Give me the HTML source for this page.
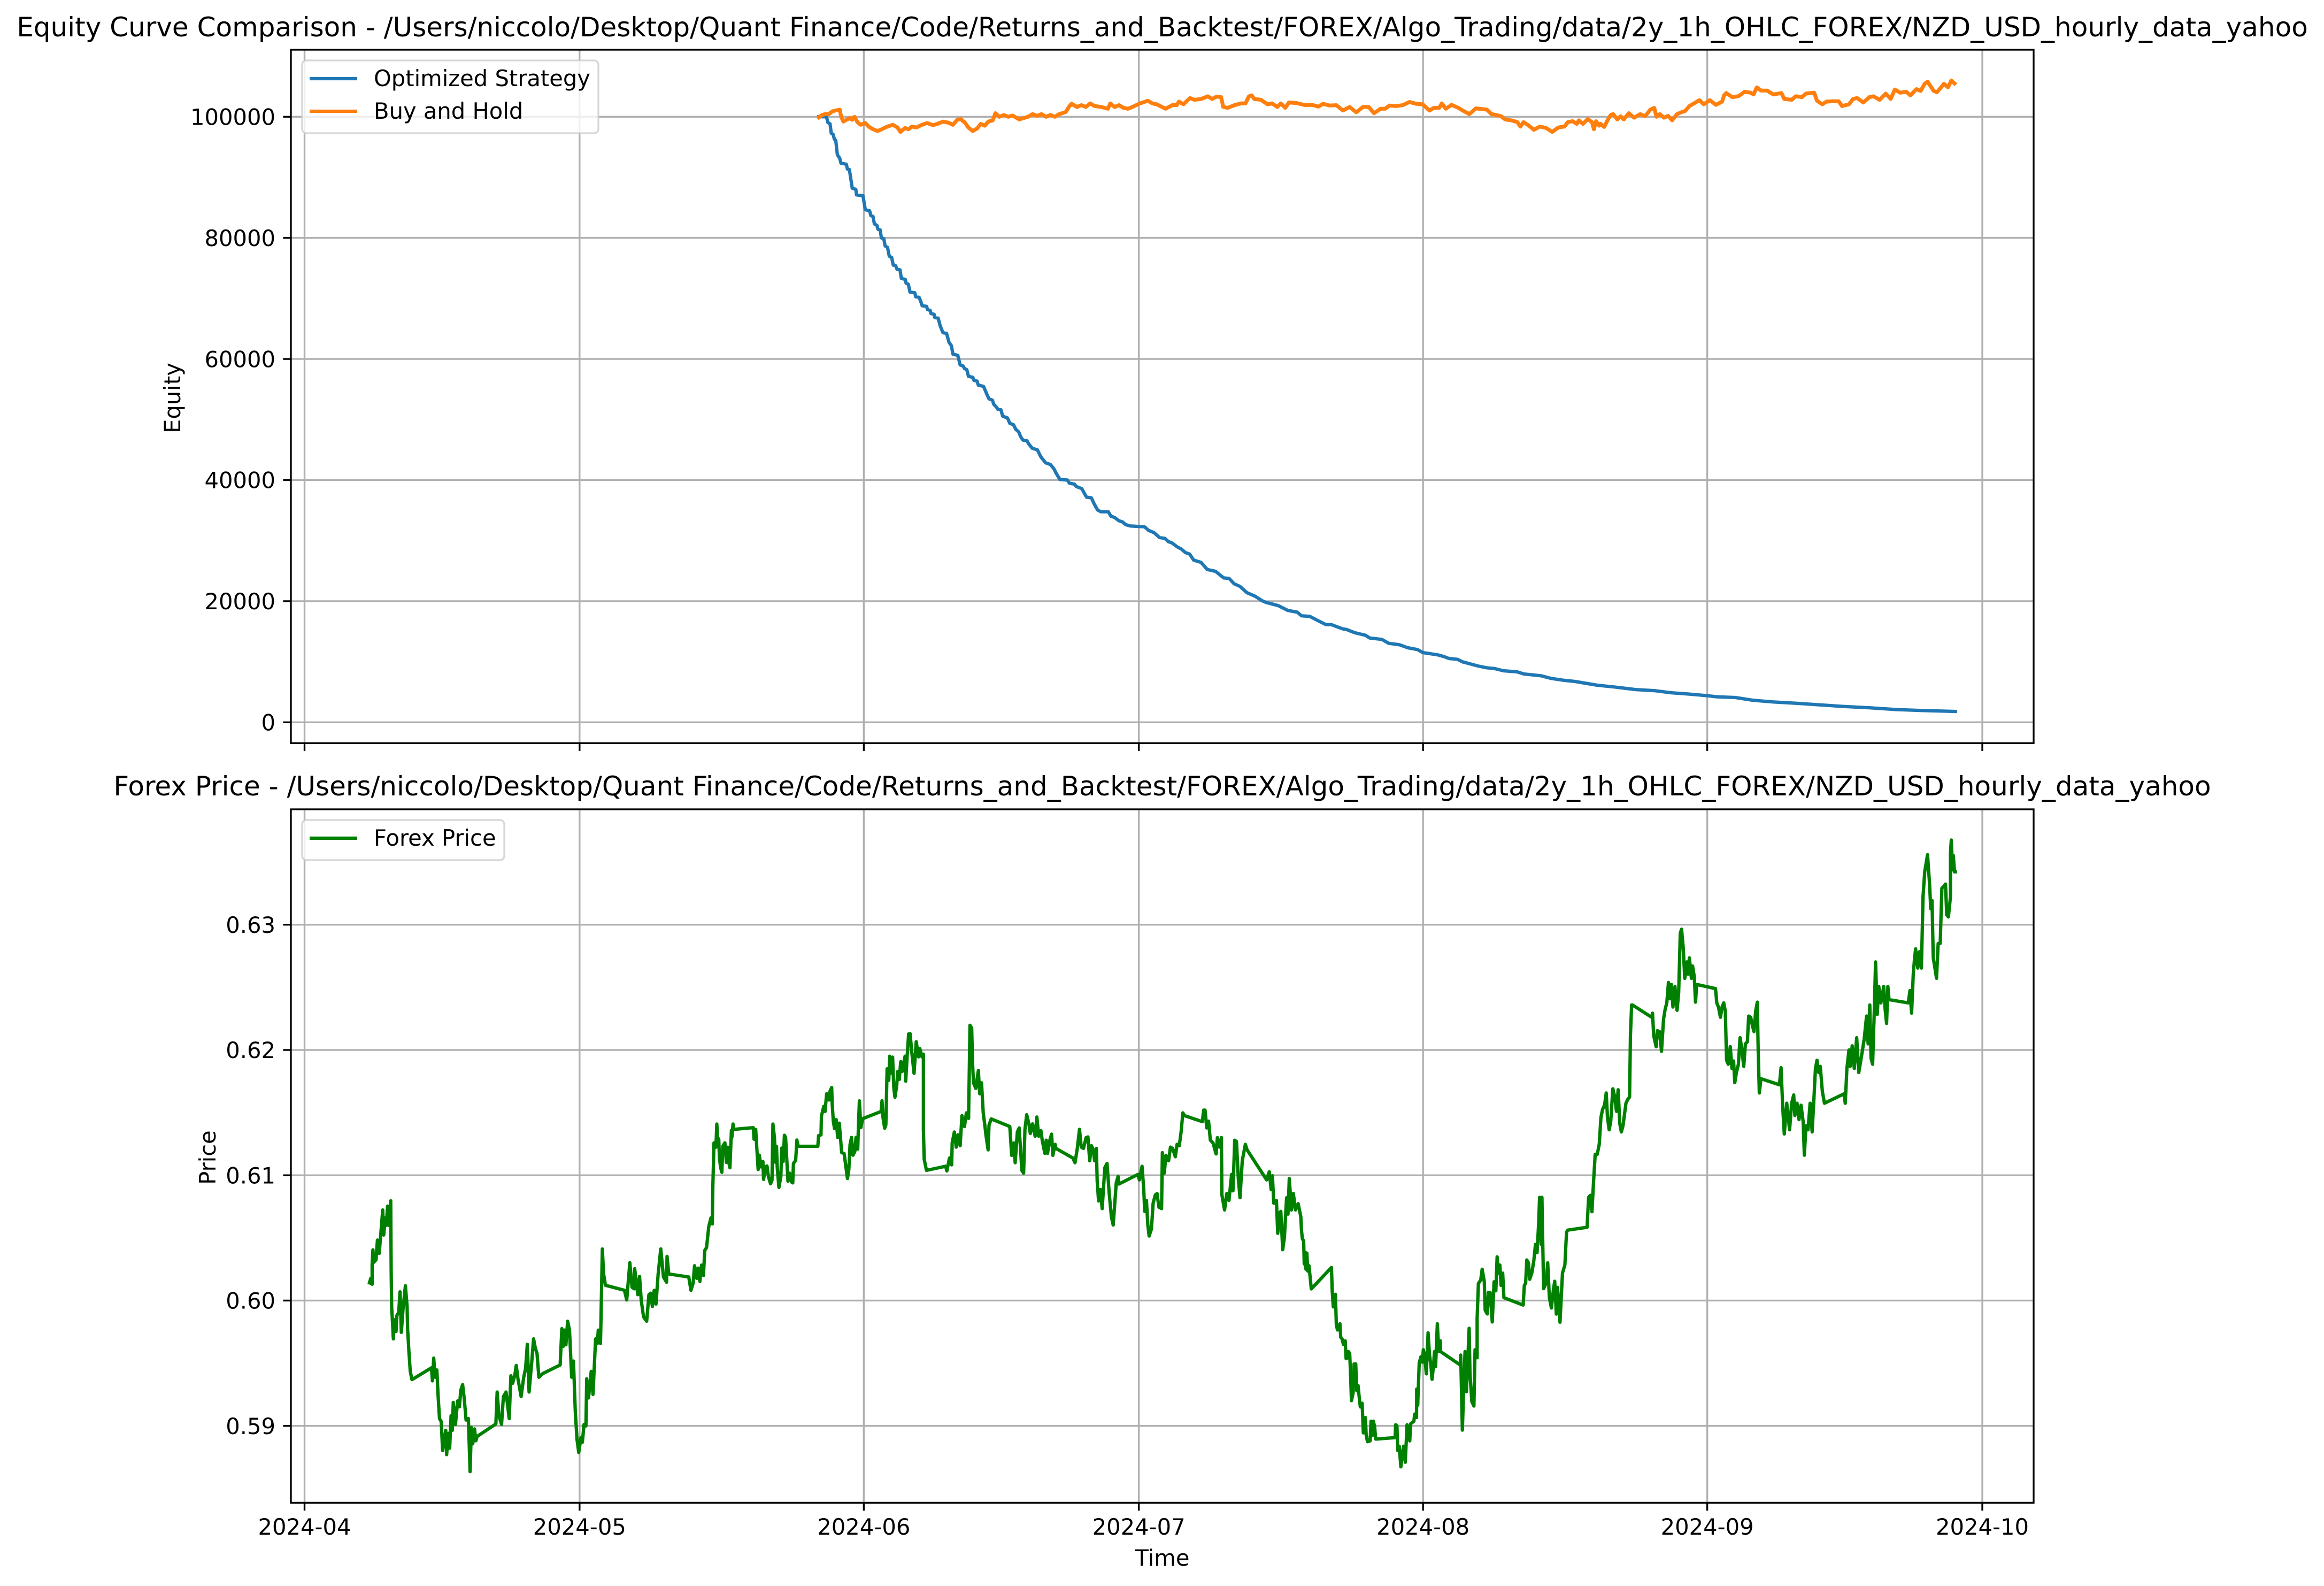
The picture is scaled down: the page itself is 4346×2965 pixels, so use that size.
<!DOCTYPE html>
<html lang="en">
<head>
<meta charset="utf-8">
<title>Equity Curve Comparison</title>
<style>
html,body{margin:0;padding:0;background:#fff;width:4346px;height:2965px;overflow:hidden}
svg{display:block}
text{font-family:"DejaVu Sans","Liberation Sans",sans-serif;fill:#000}
.t{font-size:50px}
.l{font-size:41.67px}
.grid{stroke:#b0b0b0;stroke-width:3.33;fill:none}
.tick{stroke:#000;stroke-width:3.33;fill:none}
.spine{stroke:#000;stroke-width:3.33;fill:none}
.series{fill:none;stroke-width:6.25;stroke-linejoin:round;stroke-linecap:square}
#holdLine{stroke-width:7.2}
.legend-box{fill:#fff;fill-opacity:.8;stroke:#ccc;stroke-opacity:.8;stroke-width:3.33}
</style>
</head>
<body>
<svg xmlns="http://www.w3.org/2000/svg" width="4346" height="2965" viewBox="0 0 4346 2965">
<rect x="0" y="0" width="4346" height="2965" fill="#fff"/>

<text class="t" x="2173.5" y="68" text-anchor="middle">Equity Curve Comparison - /Users/niccolo/Desktop/Quant Finance/Code/Returns_and_Backtest/FOREX/Algo_Trading/data/2y_1h_OHLC_FOREX/NZD_USD_hourly_data_yahoo</text>
<text class="t" x="2173.5" y="1487" text-anchor="middle">Forex Price - /Users/niccolo/Desktop/Quant Finance/Code/Returns_and_Backtest/FOREX/Algo_Trading/data/2y_1h_OHLC_FOREX/NZD_USD_hourly_data_yahoo</text>

<g id="gridTop"></g>
<g id="gridBottom"></g>

<polyline id="strategyLine" class="series" stroke="#1f77b4"/>
<polyline id="holdLine" class="series" stroke="#ff7f0e"/>
<polyline id="forexLine" class="series" stroke="#008000"/>

<rect class="spine" x="544" y="93" width="3259" height="1296.3"/>
<rect class="spine" x="544" y="1513" width="3259" height="1296.4"/>

<g id="ticksTop"></g>
<g id="ticksBottom"></g>

<text class="l" transform="translate(337 744) rotate(-90)" text-anchor="middle">Equity</text>
<text class="l" transform="translate(403 2164) rotate(-90)" text-anchor="middle">Price</text>
<text class="l" x="2173.5" y="2927" text-anchor="middle">Time</text>

<g>
  <rect class="legend-box" x="565" y="113" width="554" height="136" rx="8" ry="8"/>
  <line x1="579" x2="668" y1="147" y2="147" stroke="#1f77b4" stroke-width="6.25"/>
  <text class="l" x="699" y="161">Optimized Strategy</text>
  <line x1="579" x2="668" y1="208" y2="208" stroke="#ff7f0e" stroke-width="6.25"/>
  <text class="l" x="699" y="222">Buy and Hold</text>
</g>
<g>
  <rect class="legend-box" x="565" y="1533" width="378" height="75" rx="8" ry="8"/>
  <line x1="579" x2="668" y1="1567" y2="1567" stroke="#008000" stroke-width="6.25"/>
  <text class="l" x="699" y="1581">Forex Price</text>
</g>
</svg>

<script>
const monthLabels = ['2024-04','2024-05','2024-06','2024-07','2024-08','2024-09','2024-10'];
const equityTicks = [0,20000,40000,60000,80000,100000];
const priceTicks = [0.59,0.60,0.61,0.62,0.63];

// Days elapsed since 2024-04-01
const strategyDays = [
56.09,56.93,57.08,57.32,57.45,57.66,57.79,57.94,58.12,58.38,58.51,59.09,
59.22,59.43,59.74,60.13,60.21,60.91,61.17,61.64,61.77,62.0,62.16,62.42,
62.55,62.79,62.92,63.18,63.33,63.59,63.78,64.04,64.22,64.48,64.63,64.95,
65.1,65.52,65.62,65.86,66.04,66.56,66.67,67.03,67.19,67.37,67.86,67.94,
68.25,68.33,68.67,68.75,69.11,69.32,69.63,70.03,70.29,70.55,70.73,71.25,
71.51,71.85,71.98,72.24,72.42,72.89,73.02,73.36,73.49,74.06,74.45,74.66,
75.03,75.18,75.49,75.62,75.96,76.15,76.67,76.93,77.32,77.58,77.89,78.1,
78.36,78.8,79.01,79.4,79.92,80.31,80.83,81.35,81.74,82.0,82.4,83.2,
83.44,83.98,84.18,84.78,85.29,85.82,86.12,86.5,86.86,87.67,87.96,88.35,
88.8,89.24,89.54,90.05,91.62,92.07,92.67,93.26,93.86,94.21,94.6,95.2,
95.64,96.09,96.54,96.98,97.79,98.47,99.36,100.26,100.85,101.39,102.04,102.79,
103.68,104.42,104.87,106.21,107.25,108.29,108.74,109.63,110.52,111.42,112.01,113.2,
113.65,114.54,115.73,116.18,117.52,118.26,119.45,120.34,121.39,121.98,123.62,124.26,
124.82,125.75,126.31,127.98,128.91,129.84,130.77,132.26,133.0,134.86,135.98,137.28,
138.58,141.0,142.86,145.28,147.33,149.0,151.05,153.02,154.02,156.07,157.93,160.16,
162.95,165.18,167.79,170.76,173.74,176.34,180.06];
const strategyEquity = [
100000,100000,99053,98856,97279,97081,96293,96096,93729,93137,92349,92152,
91363,91284,88207,88010,87103,86946,84658,84461,83672,83554,82292,82094,
81424,81306,80004,79846,78663,78426,76967,76770,75508,75390,74798,74719,
73300,73142,72511,72353,71051,70933,70262,70183,69592,68803,68685,68172,
68014,67501,67384,66831,66752,65530,64347,64229,62770,62178,60798,60600,
59023,58826,58431,58234,57130,56972,56459,56341,55671,55474,54093,53423,
53186,52516,52003,51688,51609,50544,50268,49361,49164,48375,47981,47192,
46600,46482,45930,45220,45023,43840,42854,42577,41867,41078,40092,40013,
39471,39325,38943,38590,37180,37063,36094,35066,34772,34772,34038,33832,
33304,33069,32658,32423,32276,31688,31306,30513,30366,29838,29632,28957,
28605,28017,27782,26783,26402,25227,24933,23846,23758,22877,22437,21409,
20822,20088,19794,19265,18472,18178,17590,17503,16798,16122,16122,15446,
15329,14801,14360,13920,13685,13039,12803,12304,12011,11512,11130,10867,
10543,10396,9984,9306,9012,8864,8511,8334,7981,7686,7245,6950,
6744,6126,5831,5389,5213,4889,4653,4388,4211,4094,3652,3357,
3122,2886,2621,2385,2091,1944,1796];

const holdDays = [
56.11,56.45,56.78,57.17,57.56,57.9,58.38,58.53,58.77,59.11,59.49,59.73,
59.98,60.31,60.65,61.18,61.52,62.01,62.49,62.97,63.46,64.18,64.67,65.0,
65.49,65.88,66.26,66.75,67.33,67.91,68.54,69.02,69.65,70.23,70.71,71.2,
71.58,72.07,72.4,72.89,73.37,73.76,74.19,74.58,75.06,75.35,75.79,76.27,
76.76,77.24,77.96,78.45,78.93,79.41,79.9,80.38,80.87,81.35,81.83,82.32,
83.04,83.43,83.67,84.25,84.73,85.22,85.7,86.18,86.91,87.63,87.88,88.36,
88.84,89.33,89.81,90.3,91.02,91.99,92.47,92.95,93.92,94.65,95.13,95.37,
95.86,96.58,97.07,97.79,98.52,99.0,99.48,99.97,100.21,100.69,101.42,102.14,
102.63,103.01,103.3,103.59,104.32,105.04,105.53,106.11,106.49,106.98,107.37,108.19,
109.15,109.88,110.6,111.09,111.81,112.54,113.26,113.99,114.72,115.44,116.07,116.65,
117.38,117.86,118.34,119.07,119.79,120.52,121.24,121.97,122.69,123.18,123.76,124.05,
124.48,125.11,125.84,126.32,127.05,127.77,128.98,129.46,129.97,130.51,130.96,131.63,
132.3,132.61,132.97,133.63,134.08,134.75,135.42,136.09,136.76,137.43,137.79,138.32,
138.77,138.99,139.44,139.97,140.42,140.64,140.87,141.22,141.36,141.76,142.12,142.47,
142.74,143.19,143.55,143.9,144.44,145.02,145.69,146.22,146.8,147.21,147.47,147.83,
148.28,148.72,149.17,149.71,150.15,150.6,151.05,151.72,152.16,152.61,153.28,153.95,
154.62,154.84,155.06,155.73,156.4,157.07,157.74,158.05,158.41,158.86,159.53,160.2,
161.09,161.4,162.21,162.65,163.32,163.77,164.66,164.97,165.55,166.0,166.67,167.34,
167.7,168.46,168.9,169.35,170.02,170.69,171.13,171.8,172.47,173.01,173.46,174.04,
174.71,175.15,175.83,176.27,176.72,177.03,177.7,178.05,178.5,178.81,179.26,179.62,
179.97];
const holdEquity = [
99912,100295,100442,100442,100884,101031,101178,100000,99205,99499,99794,99499,
100000,99117,98675,98969,98380,97939,97644,97939,98321,98675,98233,97497,
98145,97939,98380,98233,98675,98969,98616,98822,99205,99028,98675,99499,
99617,98969,98233,97644,98086,98822,98528,99205,99411,100589,100000,100295,
100000,100206,99558,99794,100000,100442,100147,100442,100000,100295,100000,100442,
100795,101767,102150,101620,101914,101620,102209,101767,101620,101325,102209,101620,
101914,101473,101325,101620,102150,102651,102209,102062,101325,101914,101914,102503,
102062,103092,102798,102945,103387,102945,103328,103240,101620,101473,101914,102209,
102209,103387,103534,102945,102798,102062,102209,101620,102209,101473,102356,102268,
101914,101973,101679,102150,101855,101914,101031,101620,100736,101620,101620,100589,
101325,101325,101855,101767,101914,102444,102150,102062,101031,101473,101473,102209,
101325,101973,101473,101031,100442,101384,101178,100442,100295,100088,99558,99411,
99117,98380,99117,98439,97850,98380,98145,97497,98233,98380,99117,99264,
98822,99411,98822,99617,99117,97939,99264,98528,98822,98321,99411,100295,
100442,99558,100088,99558,100589,99853,100442,100088,101178,101473,100000,100442,
99853,100147,99411,100442,100736,100972,101767,102356,102739,102062,102739,101973,
102503,103534,103917,103240,103387,104123,103976,103681,104859,104329,104329,103681,
103917,102945,102798,103387,103240,103829,103976,102651,102062,102503,102562,102562,
101767,102062,102945,103092,102356,103240,103387,102798,103829,102945,104506,103976,
104123,103534,104565,104270,105448,105802,104270,104035,104859,105448,104859,105978,
105507];

const forexDays = [
7.08,7.22,7.37,7.37,7.46,7.56,7.80,7.95,8.14,8.33,8.53,8.63,
8.82,8.92,9.06,9.21,9.40,9.45,9.50,9.69,9.79,9.98,10.08,10.27,
10.42,10.56,10.75,11.0,11.19,11.24,11.38,11.53,11.72,13.85,13.95,14.09,
14.24,14.43,14.58,14.72,14.91,15.06,15.40,15.5,15.69,15.83,15.98,16.12,
16.22,16.46,16.7,16.9,17.04,17.24,17.43,17.62,17.87,18.06,18.2,18.35,
18.54,18.69,18.83,20.87,21.01,21.2,21.49,21.69,21.98,22.32,22.51,22.7,
22.95,23.09,23.28,23.62,23.91,24.11,24.3,24.49,24.78,24.98,25.17,25.36,
25.56,25.95,27.88,28.07,28.22,28.36,28.51,28.7,28.9,29.14,29.33,29.53,
29.72,29.91,30.15,30.3,30.49,30.69,30.78,30.98,31.27,31.46,31.75,31.94,
32.04,32.28,32.33,32.48,32.62,32.82,34.9,35.14,35.38,35.48,35.72,35.96,
36.01,36.35,36.54,36.73,36.98,37.32,37.56,37.75,37.94,38.14,38.33,38.57,
38.77,38.86,39.15,39.49,39.54,39.73,41.91,42.15,42.39,42.54,42.78,42.93,
43.12,43.31,43.51,43.65,43.85,44.09,44.33,44.48,
44.53,44.66,44.84,44.87,44.97,45.05,45.18,45.26,45.39,45.52,45.62,45.85,
46.01,46.17,46.27,46.4,46.56,46.61,46.74,46.82,48.95,49.03,49.21,49.34,
49.48,49.61,49.79,50.0,50.07,50.28,50.44,50.6,50.83,50.99,51.09,51.25,
51.38,51.48,51.56,51.74,51.95,52.05,52.21,52.34,52.47,52.73,52.91,53.12,
53.25,53.33,53.57,53.7,53.85,55.99,56.07,56.33,56.38,56.64,56.77,56.95,
57.21,57.32,57.5,57.55,57.68,57.81,57.99,58.15,58.33,58.59,58.85,59.06,
59.22,59.37,59.5,59.66,59.82,60.02,60.15,60.34,60.42,60.52,60.68,60.88,
62.89,62.99,63.1,63.28,63.41,63.54,63.72,63.83,63.98,64.14,64.27,64.4,
64.58,64.71,64.87,65.03,65.18,65.36,65.5,65.57,65.7,65.89,
66.05,66.24,66.48,66.72,66.97,67.11,67.35,67.5,67.5,67.59,67.84,69.92,
70.06,70.35,70.59,70.64,70.88,71.08,71.27,71.51,71.71,71.98,72.19,72.43,
72.58,72.77,72.87,72.96,73.21,73.5,73.64,73.84,74.03,74.22,74.32,74.56,
74.66,74.9,76.93,77.13,77.37,77.51,77.75,77.95,78.24,78.43,78.58,78.77,
79.01,79.16,79.4,79.69,79.88,80.08,80.32,80.46,80.75,80.9,81.04,81.29,
81.48,81.62,81.87,81.96,83.8,84.04,84.29,84.53,84.72,84.96,85.25,85.45,
85.64,85.83,86.03,86.17,86.37,86.46,86.61,86.8,87.0,87.29,87.53,87.77,
88.01,88.2,88.4,88.54,88.74,88.83,90.91,91.06,91.35,91.54,91.64,91.83,
91.98,92.12,92.37,92.56,92.8,92.99,93.19,93.48,93.57,93.77,93.96,94.25,
94.45,94.69,94.98,95.17,95.41,95.61,95.8,95.99,97.93,98.07,98.22,98.41,
98.61,98.8,99.09,99.43,99.57,99.81,100.01,100.06,100.35,100.59,100.83,101.12,
101.27,101.46,101.65,101.85,102.04,102.28,102.62,102.81,104.94,105.23,105.43,105.57,
105.72,106.01,106.15,106.4,106.49,106.69,106.88,107.12,107.27,107.41,107.65,107.85,
108.09,108.38,108.67,
108.74,108.84,108.98,109.04,109.17,109.23,109.33,109.43,109.56,109.81,112.01,112.09,
112.21,112.44,112.54,112.67,112.93,113.02,113.18,113.31,113.51,113.61,113.76,113.86,
114.0,114.09,114.19,114.38,114.48,114.66,114.77,114.91,115.07,115.16,115.36,115.49,
115.71,115.8,115.94,116.23,116.33,116.47,116.58,116.72,116.84,118.95,119.01,119.15,
119.25,119.4,119.58,119.73,119.87,120.06,120.26,120.41,120.55,120.65,121.0,121.09,
121.29,121.31,121.42,121.58,121.77,121.93,122.03,122.16,122.36,122.55,122.71,122.84,
122.98,123.14,123.25,123.37,123.56,123.72,123.88,123.91,126.05,126.11,126.29,126.44,
126.58,126.73,127.03,127.12,127.32,127.55,127.67,127.9,127.9,128.04,128.29,128.45,
128.68,128.78,129.01,129.13,129.32,129.55,129.75,129.94,130.08,
130.2,130.38,130.51,130.69,130.82,132.92,133.05,133.19,133.32,133.5,133.63,133.86,
134.08,134.26,134.44,134.62,134.71,134.89,134.97,135.15,135.42,135.6,135.78,136.0,
136.22,136.36,136.54,136.67,136.94,137.21,137.47,137.65,137.79,139.89,140.06,140.24,
140.42,140.6,140.78,141.0,141.22,141.4,141.58,141.8,141.98,142.12,142.3,142.47,
142.7,142.92,143.1,143.28,143.46,143.63,143.81,144.13,144.35,144.53,144.62,144.75,
144.84,146.94,147.03,147.16,147.43,147.56,147.79,148.01,148.23,148.41,148.59,148.77,
148.9,149.08,149.26,149.48,149.71,149.88,150.06,150.2,150.38,150.55,150.78,150.91,
151.05,151.27,151.4,151.58,151.72,151.85,153.9,154.04,154.22,154.44,154.62,154.8,
154.97,155.11,155.29,155.51,155.69,155.87,156.0,156.18,156.4,156.58,156.76,156.98,
157.16,157.38,157.52,157.74,157.92,158.1,158.28,158.46,158.55,158.68,158.86,160.87,
161.05,161.22,161.4,161.67,161.98,162.21,162.43,162.56,162.79,163.01,163.23,163.46,
163.59,163.77,163.99,164.22,164.44,164.62,164.8,164.97,165.15,165.33,165.55,165.78,
167.92,168.05,168.23,168.46,168.59,168.81,169.04,169.3,169.53,169.79,170.11,170.38,
170.55,170.73,170.87,171.04,171.22,171.36,171.54,171.71,171.94,172.25,172.38,172.56,
172.7,172.83,174.93,175.11,175.29,175.47,175.6,175.73,175.96,176.14,176.36,176.54,
176.72,177.03,177.25,177.38,177.52,177.65,177.83,178.01,178.19,178.41,178.59,178.81,
178.99,179.12,179.3,179.53,179.53,179.62,179.75,179.84,179.97,180.06];
const forexPrices = [
.60141,.60177,.6013,.60283,.60405,.60306,.60325,.60483,.60377,.60542,.60723,.60523,
.6066,.606,.60754,.606,.60796,.60236,.59953,.59694,.59847,.59753,.59882,.59906,
.6007,.59746,.5994,.60118,.59953,.59776,.596,.59435,.59369,.59463,.59359,.59541,
.59388,.59446,.59223,.59058,.59034,.58803,.58964,.5877,.5894,.58822,.59081,.58964,
.59187,.59011,.59199,.59152,.59282,.59329,.59211,.59046,.59058,.58634,.58987,.58857,
.58975,.58881,.58916,.59015,.5927,.59081,.59011,.59234,.5927,.59058,.59399,.5934,
.59411,.59482,.59376,.59234,.59388,.59458,.59651,.5927,.59505,.59694,.59623,.59576,
.59388,.59416,.59486,.59776,.59635,.59764,.59647,.59835,.59764,.59388,.59517,.59117,
.58893,.58787,.58905,.58869,.59011,.58999,.59376,.59223,.59435,.59251,.59694,.59658,
.59764,.59658,.59835,.60412,.60212,.60122,.60082,.60005,.60212,.60302,.60106,.60094,
.60254,.60047,.60193,.6,.5987,.59835,.60047,.60059,.59953,.60082,.59972,.60212,
.60353,.60412,.60188,.60146,.60353,.60212,.60188,.60082,.60141,.60278,.60177,.60259,
.60153,.60283,.602,.604,.60424,.60589,.6066,.60612,
.60903,.61259,.61259,.61224,.61409,.61302,.61288,.61131,.6106,.61024,.61231,.61259,
.61103,.61224,.61103,.6106,.61359,.61302,.61409,.61366,.6138,.61288,.61366,.61209,
.61046,.6116,.61067,.6111,.60967,.61067,.61074,.60989,.60932,.6096,.61409,.61302,
.61103,.61231,.6106,.60903,.60989,.61217,.6111,.61319,.61302,.60953,.61017,.60946,
.60939,.61095,.61117,.61281,.61231,.61231,.61316,.61323,.61473,.61551,.61509,.61651,
.61601,.61672,.61701,.61573,.6143,.61373,.61444,.61302,.61416,.61181,.61174,.6106,
.60974,.61046,.61245,.61302,.6116,.61188,.61302,.61209,.61402,.61594,.6138,.61452,
.61509,.61594,.61459,.61376,.61402,.6185,.61758,.6195,.61815,.61943,.61701,.61623,
.61708,.61829,.61765,.61907,.61829,.619,.6195,.61751,.61915,.62128,
.62131,.61978,.61814,.62066,.61945,.62011,.61945,.61967,.61367,.61127,.61039,.61072,
.61035,.61138,.61083,.61258,.61345,.61225,.61323,.61236,.61476,.61389,.61498,.61454,
.62197,.62175,.61891,.61738,.61694,.61836,.61651,.61738,.61498,.61389,.61323,.61203,
.614,.6145,.61389,.61159,.61258,.611,.61345,.61378,.61039,.61017,.61367,.61483,
.6141,.61334,.6141,.61312,.61465,.61312,.61356,.6128,.61175,.6128,.61175,.6128,
.61328,.61159,.61247,.61214,.61138,.611,.61214,.61367,.61225,.61214,.61301,.61306,
.61116,.61236,.61203,.61116,.61214,.60952,.60795,.60886,.60734,.61061,.61094,.60854,
.60668,.60603,.60799,.60941,.60991,.6093,.61007,.60963,.61072,.60886,.60712,.60799,
.60603,.60515,.6057,.60777,.60843,.60854,.60745,.60734,.61181,.61017,.61159,.61116,
.61225,.61214,.61148,.61247,.61236,.61345,.61498,.61476,.61428,.6152,.6152,.61378,
.61432,.6128,.61258,.6117,.61301,.61225,.61301,.60843,.60723,.60854,.60799,.61007,
.60876,.6128,.61269,.60974,.60821,.61116,.61247,.61203,.60963,.61028,.60886,.60996,
.60777,.60799,.60537,.60701,.60712,.60406,.60504,.60821,.6069,.60974,.60723,.60854,
.60723,.60773,.60668,
.60563,.60492,.60478,.60292,.60385,.6025,.60378,.60235,.60278,.60093,.60264,.60078,
.5995,.6005,.59807,.59765,.59815,.59708,.59693,.5965,.59679,.59536,.59544,.59593,
.59579,.59422,.59201,.59265,.59494,.59494,.5928,.59322,.59208,.59151,.5918,.58944,
.59066,.58923,.58873,.5888,.59037,.58923,.59037,.58994,.58894,.58906,.59009,.59001,
.58802,.58837,.58673,.58766,.58837,.58709,.59009,.58952,.5888,.59016,.59037,.59094,
.59066,.59294,.59165,.59501,.59551,.59508,.59608,.59565,.59415,.59743,.59565,.59494,
.59372,.59479,.59593,.59472,.59815,.59593,.59679,.59593,.59486,.59565,.58966,.59322,
.59593,.59272,.59779,.59422,.59194,.59158,.59608,.59544,.59857,.60136,.60164,.6025,
.6015,.59922,.59893,.60064,.60064,.59829,.6015,.60078,.60349,
.60219,.60284,.60121,.60219,.60023,.59964,.60121,.60137,.60324,.60301,.6017,.60219,
.60317,.60448,.60382,.60627,.60824,.60448,.60824,.60095,.60137,.60301,.60023,.59941,
.60088,.60154,.59892,.60105,.59827,.60219,.60284,.60546,.60562,.60585,.60824,.6084,
.60709,.60954,.61167,.61167,.61248,.61461,.61526,.61559,.61657,.61461,.61363,.61428,
.6169,.61624,.6151,.61683,.61412,.61346,.61395,.61575,.61608,.61624,.62114,.62359,
.62359,.62261,.62294,.62114,.62026,.62154,.62147,.6199,.62245,.62327,.62376,.62539,
.62409,.62523,.62343,.62507,.62317,.62458,.62931,.62964,.62817,.62572,.62703,.62605,
.62735,.62572,.6267,.62588,.62382,.62523,.6249,.62376,.62343,.62261,.62343,.62376,
.6231,.61918,.61886,.62026,.61853,.61912,.61739,.6182,.61886,.62098,.62016,.61869,
.62049,.62065,.62271,.62261,.62196,.62147,.6231,.62382,.62016,.61657,.61771,.61722,
.61859,.61559,.6133,.61575,.61363,.61575,.61641,.61477,.61575,.61444,.61559,.61428,
.6116,.61395,.61363,.61575,.61346,.61592,.61853,.61918,.6182,.61869,.61673,.61575,
.6165,.61575,.61853,.62,.61869,.62033,.61853,.62098,.6182,.61935,.62082,.62271,
.62049,.62359,.61935,.61886,.6231,.62703,.62284,.62507,.62376,.62507,.62343,.62212,
.62507,.62402,.62376,.62474,.62294,.62605,.62719,.62807,.62654,.62784,.62654,.63226,
.63422,.63559,.63324,.63127,.63193,.62735,.62654,.62572,.6285,.6285,.63291,.63307,
.63324,.63078,.63062,.63226,.63569,.63676,.63438,.63552,.63422,.63422];

const plot = { left:544, right:3803, xMin:-1.487, xMax:188.6 };
const topPlot = { top:93, bottom:1389.3, yMin:-3445, yMax:111069 };
const bottomPlot = { top:1513, bottom:2809.4, yMin:0.58386, yMax:0.63921 };
const SVGNS = 'http://www.w3.org/2000/svg';

function xAxis(day){ return plot.left + (day-plot.xMin)*(plot.right-plot.left)/(plot.xMax-plot.xMin); }
function yAxis(panel,v){ return panel.bottom - (v-panel.yMin)*(panel.bottom-panel.top)/(panel.yMax-panel.yMin); }
function monthToDay(label){
  const p = label.split('-');
  return (Date.UTC(+p[0],+p[1]-1,1)-Date.UTC(2024,3,1))/864e5;
}
function lineEl(parent,cls,x1,y1,x2,y2){
  const el = document.createElementNS(SVGNS,'line');
  el.setAttribute('class',cls);
  el.setAttribute('x1',x1); el.setAttribute('y1',y1);
  el.setAttribute('x2',x2); el.setAttribute('y2',y2);
  parent.appendChild(el);
  return el;
}
function textEl(parent,x,y,anchor,str){
  const el = document.createElementNS(SVGNS,'text');
  el.setAttribute('class','l');
  el.setAttribute('x',x); el.setAttribute('y',y);
  el.setAttribute('text-anchor',anchor);
  el.textContent = str;
  parent.appendChild(el);
  return el;
}
function pointsOf(panel,days,vals){
  const n = Math.min(days.length,vals.length), out = [];
  for(let i=0;i<n;i++){ out.push(xAxis(days[i]).toFixed(1)+','+yAxis(panel,vals[i]).toFixed(1)); }
  return out.join(' ');
}

function buildPanel(panel,gridId,tickId,yTicks,formatTick,showXLabels){
  const grid = document.getElementById(gridId), ticks = document.getElementById(tickId);
  monthLabels.forEach(function(m){
    const x = xAxis(monthToDay(m));
    const g = lineEl(grid,'grid',x,panel.top,x,panel.bottom);
    
    
    const t = lineEl(ticks,'tick',x,panel.bottom,x,panel.bottom+14.6);
    
    
    if(showXLabels){
      const lab = textEl(ticks,x,2869,'middle',m);
      
      
    }
  });
  yTicks.forEach(function(v){
    const y = yAxis(panel,v);
    const g = lineEl(grid,'grid',plot.left,y,plot.right,y);
    
    
    const t = lineEl(ticks,'tick',plot.left-14.6,y,plot.left,y);
    
    
    const lab = textEl(ticks,515,y+15.2,'end',formatTick(v));
    
    
  });
}

buildPanel(topPlot,'gridTop','ticksTop',equityTicks,function(v){return String(v);},false);
buildPanel(bottomPlot,'gridBottom','ticksBottom',priceTicks,function(v){return v.toFixed(2);},true);

document.getElementById('strategyLine').setAttribute('points',pointsOf(topPlot,strategyDays,strategyEquity));
document.getElementById('holdLine').setAttribute('points',pointsOf(topPlot,holdDays,holdEquity));
document.getElementById('forexLine').setAttribute('points',pointsOf(bottomPlot,forexDays,forexPrices));
</script>
</body>
</html>
